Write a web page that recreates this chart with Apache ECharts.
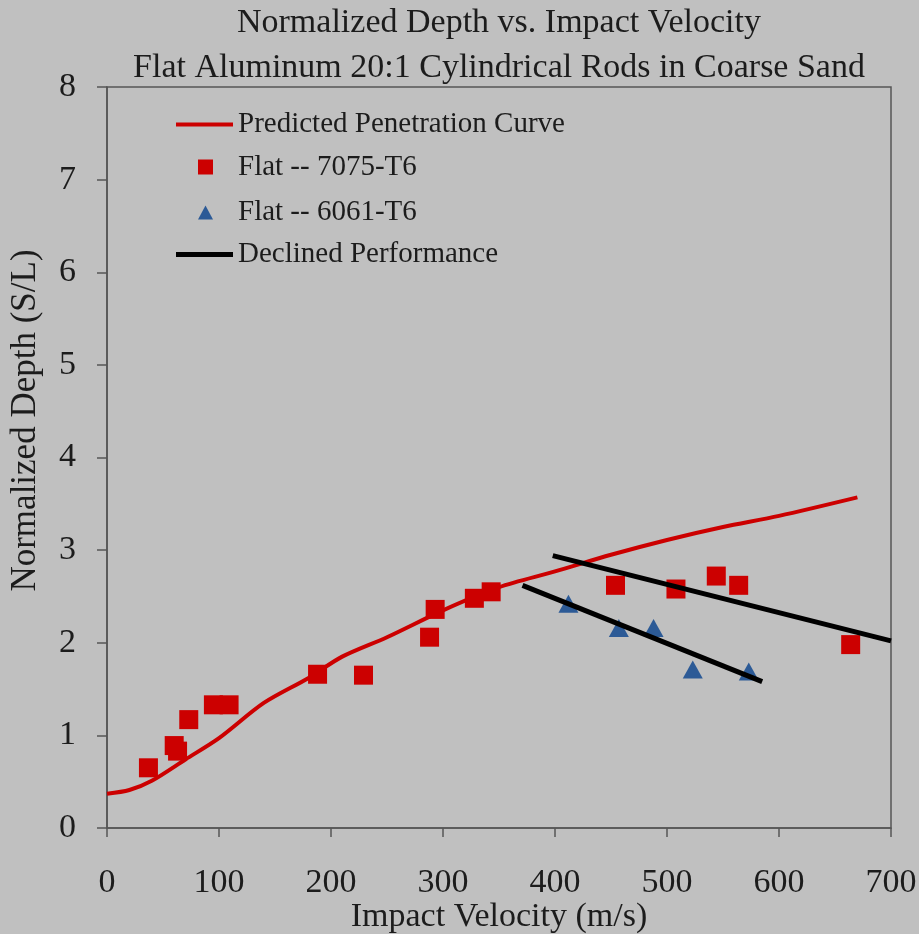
<!DOCTYPE html>
<html>
<head>
<meta charset="utf-8">
<script src="https://cdn.jsdelivr.net/npm/echarts@6/dist/echarts.min.js"></script>
<style>
  html, body { margin: 0; padding: 0; background: #c0c0c0; }
  #chart { width: 919px; height: 934px; }
</style>
</head>
<body>
<div id="chart"></div>
<script>
// predicted penetration curve (velocity m/s, S/L)
const curveX = [0, 20, 40, 70, 100, 140, 180, 210, 250, 300, 350, 400, 450, 500, 550, 600, 670]
const curveY = [0.37, 0.41, 0.51, 0.74, 0.97, 1.35, 1.62, 1.85, 2.06, 2.35, 2.6, 2.77, 2.95, 3.11, 3.25, 3.37, 3.57]

// Flat -- 7075-T6
const alX = [37, 60, 63, 73, 95, 109, 188, 229, 288, 293, 328, 343, 454, 508, 544, 564, 664]
const alY = [0.65, 0.89, 0.83, 1.17, 1.33, 1.33, 1.66, 1.65, 2.06, 2.36, 2.48, 2.55, 2.62, 2.58, 2.72, 2.62, 1.98]

// Flat -- 6061-T6
const bX = [412, 457, 488, 523, 573]
const bY = [2.42, 2.16, 2.16, 1.71, 1.69]

// declined performance lines
const decl1X = [398, 700]
const decl1Y = [2.94, 2.02]
const decl2X = [371, 585]
const decl2Y = [2.62, 1.58]

const xTicks = [0, 100, 200, 300, 400, 500, 600, 700]

const zip = (xs, ys) => xs.map((x, i) => [x, ys[i]])

const font = 'Liberation Serif, Times New Roman, serif'
const ink = '#1c1c1c'
const axisGray = '#555'

// one legend per entry so each icon gets its own size
function legendItem (name, icon, left, top, w, h, textPad) {
  return {
    data: [name],
    icon: icon,
    left: left,
    top: top,
    padding: 0,
    itemWidth: w,
    itemHeight: h,
    symbolKeepAspect: false,
    textStyle: { fontFamily: font, fontSize: 29, color: ink, padding: [0, 0, 0, textPad] }
  }
}

const chart = echarts.init(document.getElementById('chart'))
chart.setOption({
  backgroundColor: '#c0c0c0',
  animation: false,
  title: {
    text: 'Normalized Depth vs. Impact Velocity\nFlat Aluminum 20:1 Cylindrical Rods in Coarse Sand',
    left: 499,
    top: 1,
    padding: 0,
    textAlign: 'center',
    textStyle: { fontFamily: font, fontSize: 34, fontWeight: 'normal', color: ink, lineHeight: 45 }
  },
  legend: [
    legendItem('Predicted Penetration Curve', 'rect', 176, 110, 57, 4, 0),
    legendItem('Flat -- 7075-T6', 'rect', 198, 152.5, 15, 15, 20),
    legendItem('Flat -- 6061-T6', 'triangle', 198, 198, 15, 14, 20),
    legendItem('Declined Performance', 'rect', 176, 240, 57, 5, 0)
  ],
  grid: {
    left: 107, right: 28, top: 87, bottom: 106,
    outerBoundsMode: 'none',
    show: true, borderColor: axisGray, borderWidth: 1.5
  },
  xAxis: {
    type: 'value',
    min: 0, max: 700, interval: 100,
    name: 'Impact Velocity (m/s)',
    nameLocation: 'middle',
    nameGap: 72,
    nameMoveOverlap: false,
    nameTextStyle: { fontFamily: font, fontSize: 34, color: ink },
    splitLine: { show: false },
    axisLine: { lineStyle: { color: axisGray, width: 1.5 } },
    axisTick: { length: 9, lineStyle: { color: axisGray, width: 1.5 } },
    axisLabel: {
      margin: 38,
      fontFamily: font, fontSize: 34, color: ink,
      formatter: v => xTicks.includes(v) ? String(v) : ''
    }
  },
  yAxis: {
    type: 'value',
    min: 0, max: 8, interval: 1,
    name: 'Normalized Depth (S/L)',
    nameLocation: 'middle',
    nameGap: 64,
    nameMoveOverlap: false,
    nameTextStyle: { fontFamily: font, fontSize: 35, color: ink, padding: [0, 0, 0, 74] },
    splitLine: { show: false },
    axisLine: { lineStyle: { color: axisGray, width: 1.5 } },
    axisTick: { length: 10, lineStyle: { color: axisGray, width: 1.5 } },
    axisLabel: { margin: 31, fontFamily: font, fontSize: 34, color: ink }
  },
  series: [
    {
      name: 'Predicted Penetration Curve',
      type: 'line',
      data: zip(curveX, curveY),
      smooth: 0.3,
      symbol: 'none',
      lineStyle: { color: '#cc0000', width: 4 },
      itemStyle: { color: '#cc0000' },
      z: 2
    },
    {
      name: 'Declined Performance',
      type: 'line',
      data: zip(decl1X, decl1Y),
      symbol: 'none',
      lineStyle: { color: '#000', width: 5 },
      itemStyle: { color: '#000' },
      z: 4
    },
    {
      name: 'Declined Performance',
      type: 'line',
      data: zip(decl2X, decl2Y),
      symbol: 'none',
      lineStyle: { color: '#000', width: 5 },
      itemStyle: { color: '#000' },
      z: 4
    },
    {
      name: 'Flat -- 7075-T6',
      type: 'scatter',
      data: zip(alX, alY),
      symbol: 'rect',
      symbolSize: 19,
      itemStyle: { color: '#cc0000', opacity: 1 },
      z: 3
    },
    {
      name: 'Flat -- 6061-T6',
      type: 'scatter',
      data: zip(bX, bY),
      symbol: 'triangle',
      symbolSize: [20, 18],
      itemStyle: { color: '#2c5a96', opacity: 1 },
      z: 3
    }
  ]
})
</script>
</body>
</html>
